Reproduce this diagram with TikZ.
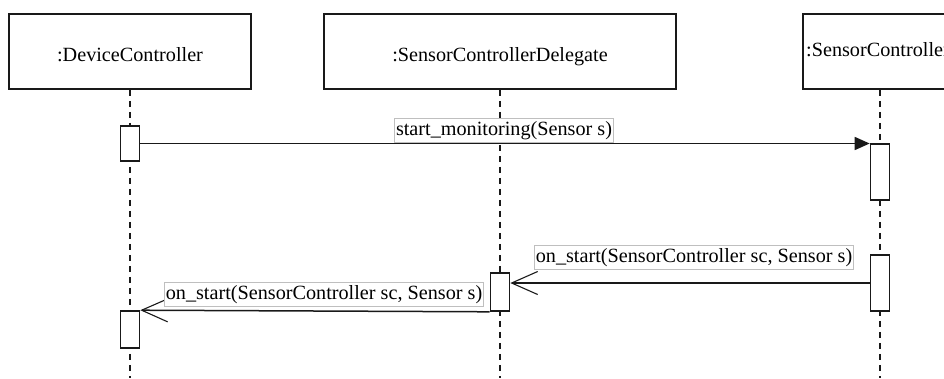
\documentclass[tikz,border=0pt]{standalone}
\usepackage{fontspec}
\setmainfont{Liberation Serif}
\usetikzlibrary{arrows.meta}
\begin{document}
\begin{tikzpicture}[x=1pt,y=-1pt,
  txt/.style={font=\fontsize{20.2}{22}\selectfont},
  obj/.style={txt, draw=black!90, line width=1.6pt, fill=white,
    minimum height=75pt, inner sep=0pt, text height=20.4pt, text depth=0pt},
  act/.style={draw=black!90, line width=1.6pt, fill=white,
    minimum width=19pt, inner sep=0pt},
  life/.style={draw=black!90, line width=1.5pt, dash pattern=on 6pt off 5pt},
  msg/.style={draw=black!90, line width=1.5pt},
  call/.style={msg, -{Triangle[length=15pt,width=13pt]}},
  reply/.style={msg, -{Straight Barb[length=26pt,width=23pt,line width=1.1pt]}},
  lbl/.style={txt, draw=black!25, line width=0.6pt, fill=white,
    inner xsep=1.5pt, inner ysep=2pt, text height=15pt, text depth=5pt}]
\useasboundingbox (0,0) rectangle (944,378);
\clip (0,0) rectangle (944,378);

% participants
\node[obj, minimum width=242pt] (dc)  at (130,51.5) {:DeviceController};
\node[obj, minimum width=352pt] (scd) at (500,51.5) {:SensorControllerDelegate};
\node[obj, minimum width=150pt, text height=9pt] (sc) at (878,51.5) {:SensorController};

% lifelines
\coordinate (dcEnd)  at (130,378);
\coordinate (scdEnd) at (500,378);
\coordinate (scEnd)  at (880,378);
\draw[life] (dc.south)  -- (dcEnd);
\draw[life] (scd.south) -- (scdEnd);
\draw[life] (sc.south -| scEnd) -- (scEnd);

% activations
\node[act, minimum height=35pt] (dcA1)  at (130,143.5) {};
\node[act, minimum height=56pt] (scA1)  at (880,172) {};
\node[act, minimum height=56pt] (scA2)  at (880,283) {};
\node[act, minimum height=38pt] (scdA)  at (500,292) {};
\node[act, minimum height=37pt] (dcA2)  at (130,329.5) {};

% messages
\draw[call]  (dcA1.east) -- (dcA1.east -| scA1.west);
\draw[reply] (scA2.west) -- (scA2.west -| scdA.east);
\draw[reply] (scdA.south west) -- (dcA2.north east);

% message labels
\node[lbl] (m1) at (504,130) {start\_monitoring(Sensor s)};
\node[lbl, anchor=west] (m2) at (534,257.5) {on\_start(SensorController sc, Sensor s)};
\node[lbl, anchor=west] (m3) at (164,294.5) {on\_start(SensorController sc, Sensor s)};
\end{tikzpicture}
\end{document}
